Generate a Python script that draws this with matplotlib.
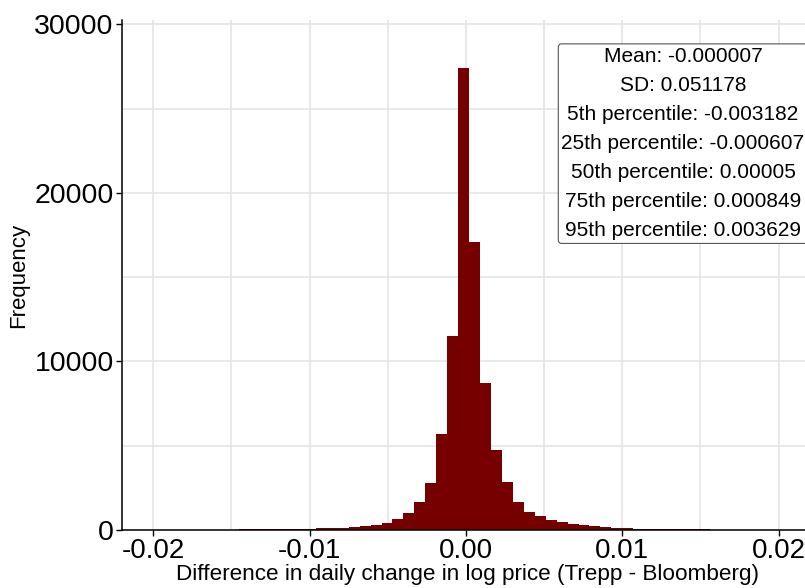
import numpy as np
import matplotlib
matplotlib.use("Agg")
import matplotlib.pyplot as plt

plt.rcParams["font.family"] = ["Liberation Sans", "DejaVu Sans"]

# histogram: bin width 0.0007, first edge -0.0215
first_edge = -0.0215
bin_width = 0.0007
counts = [10, 11, 12, 14, 16, 18, 20, 22, 25, 28, 32, 37, 42, 48, 55, 65, 75, 90, 110,
          135, 180, 235, 315, 430, 680, 1000, 1660, 2800, 5710, 11520,
          27420,
          17070, 8710, 4760, 2820, 1660, 1040, 830, 590, 475, 355, 275, 215, 155, 120,
          95, 80, 68, 58, 50, 44, 38, 33, 29, 26, 23, 20, 18, 16, 14, 12]

x_ticks = [-0.02, -0.01, 0.0, 0.01, 0.02]
x_labels = ["-0.02", "-0.01", "0.00", "0.01", "0.02"]
y_ticks = [0, 10000, 20000, 30000]
y_labels = ["0", "10000", "20000", "30000"]

stats = ["Mean: -0.000007", "SD: 0.051178", "5th percentile: -0.003182",
         "25th percentile: -0.000607", "50th percentile: 0.00005",
         "75th percentile: 0.000849", "95th percentile: 0.003629"]

edges = first_edge + bin_width * np.arange(len(counts) + 1)
centers = (edges[:-1] + edges[1:]) / 2

fig = plt.figure(figsize=(8.05, 5.88), dpi=100)
ax = fig.add_axes([122 / 805, 1 - 530 / 588, 1 - 122 / 805 + 0.01, (530 - 20) / 588])

ax.hist(centers, bins=edges, weights=counts, color="#760000", edgecolor="none")

ax.set_xlim(-0.0220, 0.0222)
ax.set_ylim(0, 30250)

# ggplot-like major + minor grid
for v in np.arange(-0.02, 0.0201, 0.005):
    ax.axvline(v, color="#e3e3e3", lw=1.1, zorder=0)
for v in range(0, 30001, 5000):
    ax.axhline(v, color="#e3e3e3", lw=1.1, zorder=0)
ax.set_axisbelow(True)

ax.set_xticks(x_ticks)
ax.set_xticklabels(x_labels, fontsize=20)
ax.set_yticks(y_ticks)
ax.set_yticklabels(y_labels, fontsize=20.5)
ax.tick_params(length=4, width=1, colors="black", pad=2)

for s in ["top", "right"]:
    ax.spines[s].set_visible(False)
for s in ["left", "bottom"]:
    ax.spines[s].set_linewidth(1.1)

ax.set_xlabel("Difference in daily change in log price (Trepp - Bloomberg)", fontsize=16.2, labelpad=0)
ax.set_ylabel("Frequency", fontsize=16, labelpad=4)

fig.text(683 / 805, 1 - 47 / 588, "\n".join(stats), ha="center", va="top",
         fontsize=15, linespacing=1.67,
         bbox=dict(boxstyle="round,pad=0.15", fc="white", ec="#555555", lw=0.8))

fig.savefig("out.png", dpi=100)
